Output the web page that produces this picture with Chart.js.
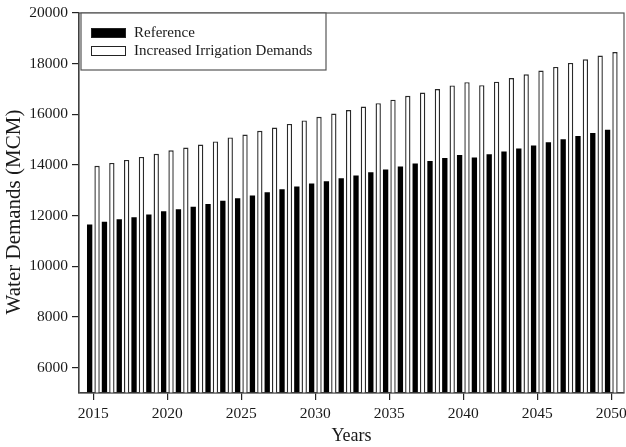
<!DOCTYPE html>
<html>
<head>
<meta charset="utf-8">
<script src="https://cdn.jsdelivr.net/npm/chart.js@4.4.1/dist/chart.umd.min.js"></script>
<style>
  html, body { margin: 0; padding: 0; background: #ffffff; }
  #wrap { width: 626px; height: 447px; }
</style>
</head>
<body>
<div id="wrap"><canvas id="chart" width="626" height="447"></canvas></div>
<script>
// Annual water demands (MCM), 2015-2050
const years = [2015, 2016, 2017, 2018, 2019, 2020, 2021, 2022, 2023, 2024, 2025, 2026,
               2027, 2028, 2029, 2030, 2031, 2032, 2033, 2034, 2035, 2036, 2037, 2038,
               2039, 2040, 2041, 2042, 2043, 2044, 2045, 2046, 2047, 2048, 2049, 2050];

const referenceDemand = [11650, 11760, 11860, 11940, 12050, 12170, 12250, 12350, 12460, 12590, 12690, 12800,
                         12920, 13040, 13150, 13270, 13360, 13480, 13590, 13710, 13820, 13940, 14060, 14160,
                         14280, 14390, 14300, 14420, 14530, 14650, 14770, 14900, 15020, 15140, 15260, 15390];

const irrigationDemand = [13970, 14080, 14200, 14320, 14440, 14580, 14690, 14810, 14930, 15090, 15200, 15350,
                          15480, 15620, 15760, 15900, 16030, 16170, 16310, 16440, 16580, 16730, 16860, 17000,
                          17140, 17270, 17150, 17290, 17430, 17580, 17730, 17870, 18030, 18170, 18320, 18460];

const seriesLabels = ['Reference', 'Increased Irrigation Demands'];
const xTickValues = [2015, 2020, 2025, 2030, 2035, 2040, 2045, 2050];
const yTickValues = [6000, 8000, 10000, 12000, 14000, 16000, 18000, 20000];
const xTitle = 'Years';
const yTitle = 'Water Demands (MCM)';

const SERIF = "'Liberation Serif', 'Times New Roman', serif";
const INK = '#1a1a1a';

const toPoints = vals => years.map((yr, i) => ({ x: yr, y: vals[i] }));

// Box around the plotting area
const framePlugin = {
  id: 'frame',
  afterDatasetsDraw(chart) {
    const { ctx, chartArea: a } = chart;
    ctx.save();
    ctx.strokeStyle = '#555';
    ctx.lineWidth = 1.2;
    ctx.strokeRect(a.left, a.top, a.right - a.left, a.bottom - a.top);
    ctx.restore();
  }
};

// Vertical value-axis title, set a little below the plot's midline
const yTitlePlugin = {
  id: 'yTitle',
  afterDraw(chart) {
    const { ctx, chartArea: a } = chart;
    ctx.save();
    ctx.translate(14, (a.top + a.bottom) / 2 + 9);
    ctx.rotate(-Math.PI / 2);
    ctx.font = '21px ' + SERIF;
    ctx.fillStyle = INK;
    ctx.textAlign = 'center';
    ctx.textBaseline = 'middle';
    ctx.fillText(yTitle, 0, 0);
    ctx.restore();
  }
};

// Boxed legend in the upper-left corner of the plot
const boxLegendPlugin = {
  id: 'boxLegend',
  afterDraw(chart) {
    const { ctx, chartArea: a } = chart;
    const x0 = a.left + 2, y0 = a.top, w = 245, h = 57;
    ctx.save();
    ctx.fillStyle = '#fff';
    ctx.fillRect(x0, y0, w, h);
    ctx.strokeStyle = '#555';
    ctx.lineWidth = 1.2;
    ctx.strokeRect(x0, y0, w, h);
    ctx.font = '15px ' + SERIF;
    ctx.textBaseline = 'middle';
    chart.data.datasets.forEach((ds, i) => {
      const sy = y0 + 15 + i * 18;
      ctx.fillStyle = ds.backgroundColor;
      ctx.fillRect(x0 + 10, sy, 35, 10);
      ctx.strokeStyle = '#222';
      ctx.lineWidth = 1;
      ctx.strokeRect(x0 + 10.5, sy + 0.5, 34, 9);
      ctx.fillStyle = INK;
      ctx.fillText(ds.label, x0 + 53, sy + 5.5);
    });
    ctx.restore();
  }
};

new Chart(document.getElementById('chart'), {
  type: 'bar',
  data: {
    datasets: [
      {
        label: seriesLabels[0],
        data: toPoints(referenceDemand),
        backgroundColor: '#000000',
        borderColor: '#000000',
        borderWidth: 0
      },
      {
        label: seriesLabels[1],
        data: toPoints(irrigationDemand),
        backgroundColor: '#ffffff',
        borderColor: '#2a2a2a',
        borderWidth: 1.4,
        borderSkipped: 'bottom'
      }
    ]
  },
  options: {
    responsive: false,
    devicePixelRatio: 1,
    animation: false,
    categoryPercentage: 1.0,
    barPercentage: 0.72,
    layout: { padding: { top: 13, right: 2, left: 0, bottom: 0 } },
    plugins: {
      legend: { display: false },
      tooltip: { enabled: false }
    },
    scales: {
      x: {
        type: 'linear',
        offset: false,
        min: 2014.03,
        max: 2050.86,
        afterBuildTicks: s => { s.ticks = xTickValues.map(v => ({ value: v })); },
        afterFit: s => { s.height = 54; s.paddingLeft = 0; s.paddingRight = 0; },
        grid: { display: true, offset: false, drawOnChartArea: false, drawTicks: true, tickLength: 7, color: '#222', lineWidth: 1.2 },
        border: { display: true, color: '#222', width: 1.2 },
        ticks: {
          autoSkip: false,
          maxRotation: 0,
          padding: 5,
          color: INK,
          font: { family: SERIF, size: 15.5 },
          callback: v => String(v)
        },
        title: {
          display: true,
          text: xTitle,
          color: INK,
          font: { family: SERIF, size: 18 },
          padding: { top: 0, bottom: 0 }
        }
      },
      y: {
        type: 'linear',
        min: 5000,
        max: 20000,
        afterBuildTicks: s => { s.ticks = yTickValues.map(v => ({ value: v })); },
        afterFit: s => { s.width = 79; s.paddingTop = 0; s.paddingBottom = 0; },
        grid: { display: true, drawOnChartArea: false, drawTicks: true, tickLength: 7, color: '#222', lineWidth: 1.2 },
        border: { display: true, color: '#222', width: 1.2 },
        ticks: {
          padding: 4,
          color: INK,
          font: { family: SERIF, size: 15.5 },
          callback: v => String(v)
        },
        title: { display: false }
      }
    }
  },
  plugins: [framePlugin, yTitlePlugin, boxLegendPlugin]
});
</script>
</body>
</html>
